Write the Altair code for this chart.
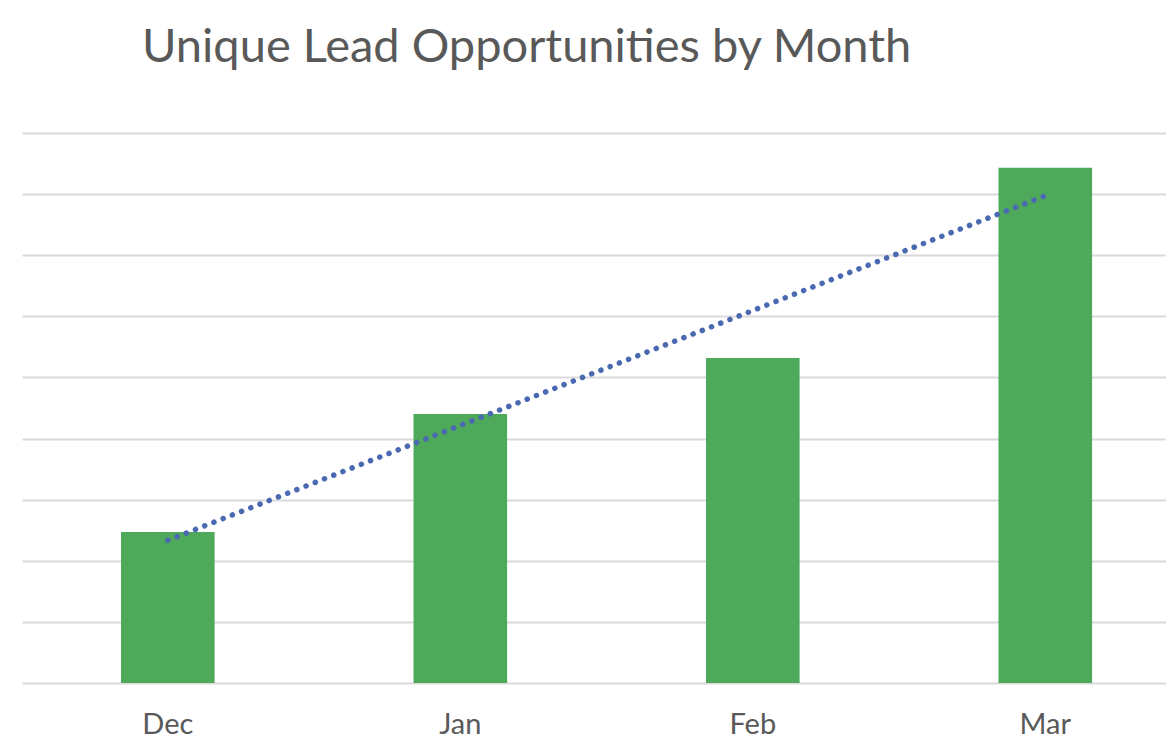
import altair as alt
import pandas as pd

months = ["Dec", "Jan", "Feb", "Mar"]
month_index = [0, 1, 2, 3]
leads = [24.7, 44.0, 53.2, 84.3]

df = pd.DataFrame({"Month": months, "idx": month_index, "Leads": leads})

FONT = "Lato"
x_scale = alt.Scale(domain=months, paddingInner=0.68, paddingOuter=0.2956, align=0.5726)
y_scale = alt.Scale(domain=[0, 90], nice=False)

x_axis = alt.Axis(title=None, labelAngle=0, domain=False, ticks=False,
                  labelPadding=27, labelFontSize=29, labelColor="#595959",
                  labelFont=FONT, grid=False)
y_axis = alt.Axis(title=None, labels=False, ticks=False, domain=False,
                  values=list(range(0, 100, 10)), grid=True,
                  gridColor="#D9D9D9", gridWidth=2)

base = alt.Chart(df)

bars = base.mark_bar(color="#4EA95B").encode(
    x=alt.X("Month:N", sort=months, scale=x_scale, axis=x_axis),
    y=alt.Y("Leads:Q", scale=y_scale, axis=y_axis),
)

trend = base.transform_regression("idx", "Leads", method="linear").transform_calculate(
    Month="['Dec','Jan','Feb','Mar'][round(datum.idx)]"
).mark_line(color="#4A69B0", strokeWidth=5.5, strokeDash=[0.1, 9.8], strokeCap="round").encode(
    x=alt.X("Month:N", sort=months, scale=x_scale, axis=x_axis),
    y=alt.Y("Leads:Q", scale=y_scale, axis=y_axis),
)

chart = alt.layer(bars, trend).properties(
    width=1144,
    height=550,
    background="white",
    autosize=alt.AutoSizeParams(type="none"),
    padding={"left": 14, "top": 125, "right": 0, "bottom": 61},
    title=alt.TitleParams(
        "Unique Lead Opportunities by Month",
        anchor="start", frame="group", dx=120, offset=24,
        baseline="alphabetic", fontSize=47, font=FONT, fontWeight="normal",
        color="#595959",
    ),
).configure_view(strokeWidth=0, stroke="transparent")

chart.save("out.html", embed_options={"renderer": "svg", "actions": False})
